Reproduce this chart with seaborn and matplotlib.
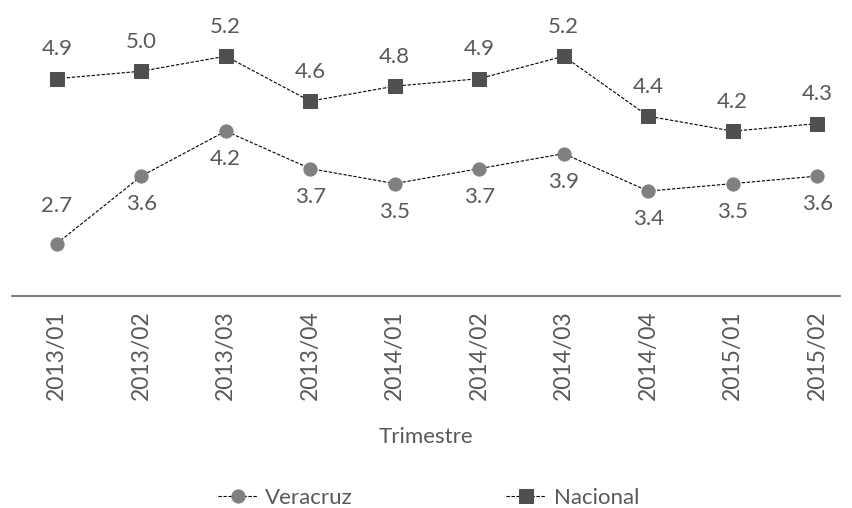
import numpy as np
import pandas as pd
import matplotlib.pyplot as plt
import seaborn as sns

trimestres = ['2013/01', '2013/02', '2013/03', '2013/04', '2014/01',
              '2014/02', '2014/03', '2014/04', '2015/01', '2015/02']
veracruz = [2.7, 3.6, 4.2, 3.7, 3.5, 3.7, 3.9, 3.4, 3.5, 3.6]
nacional = [4.9, 5.0, 5.2, 4.6, 4.8, 4.9, 5.2, 4.4, 4.2, 4.3]

sns.set_theme(style='white')
plt.rcParams['font.family'] = ['Lato', 'DejaVu Sans']

text_color = '#595959'
pos = np.arange(len(trimestres))
df = pd.DataFrame({'pos': pos, 'Veracruz': veracruz, 'Nacional': nacional})

fig = plt.figure(figsize=(8.52, 5.08), dpi=100)
ax = fig.add_axes([12 / 852, 1 - 296 / 508, 828 / 852, 296 / 508])

sns.lineplot(data=df, x='pos', y='Veracruz', ax=ax, color='black', lw=0.8,
             linestyle=(0, (3, 1.5)), marker='o', markersize=9.5,
             markerfacecolor='#808080', markeredgecolor='#808080', label='Veracruz')
sns.lineplot(data=df, x='pos', y='Nacional', ax=ax, color='black', lw=0.8,
             linestyle=(0, (3, 1.5)), marker='s', markersize=10,
             markerfacecolor='#505050', markeredgecolor='#505050', label='Nacional')

# etiquetas de valores
for i, v in enumerate(nacional):
    ax.annotate(f'{v:.1f}', (i, v), xytext=(0, 14), textcoords='offset points',
                ha='center', va='bottom', fontsize=16, color=text_color)
for i, v in enumerate(veracruz):
    if i == 0:
        off, va = (0, 20), 'bottom'
    else:
        off, va = (0, -13), 'top'
    ax.annotate(f'{v:.1f}', (i, v), xytext=off, textcoords='offset points',
                ha='center', va=va, fontsize=16, color=text_color)

ax.set_xlim(-0.53, 9.27)
ax.set_ylim(2.0, 5.95)
ax.set_xticks(pos)
ax.set_xticklabels(trimestres, rotation=90, fontsize=16.5, color=text_color)
ax.set_yticks([])
ax.set_ylabel('')
ax.set_xlabel('Trimestre', fontsize=16, color=text_color, labelpad=20)
ax.tick_params(axis='x', length=0, pad=10)

for s in ['top', 'left', 'right']:
    ax.spines[s].set_visible(False)
ax.spines['bottom'].set_color('#606060')
ax.spines['bottom'].set_linewidth(1.2)

ax.get_legend().remove()
handles, labels = ax.get_legend_handles_labels()
fig.legend(handles, labels, loc='center', bbox_to_anchor=(0.503, 0.02), ncol=2,
           frameon=False, fontsize=16, labelcolor=text_color, columnspacing=6.9,
           handlelength=1.8, handletextpad=0.35)

fig.savefig('out.png', dpi=100)
